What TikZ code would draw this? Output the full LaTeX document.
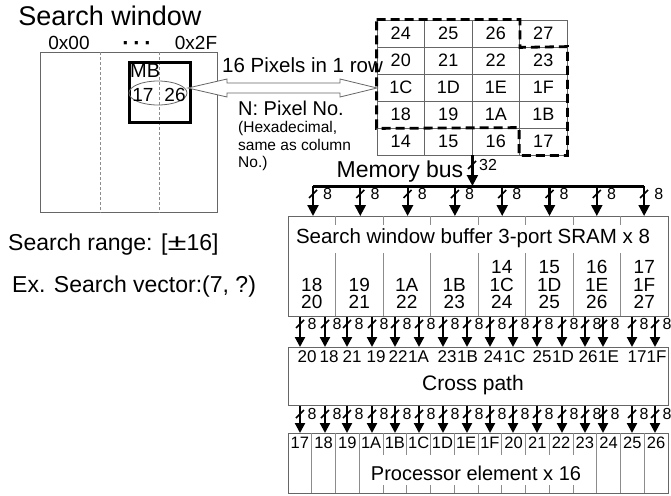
\documentclass[tikz,border=0pt]{standalone}
\usepackage{fontspec}
\setmainfont{Liberation Sans}
\usetikzlibrary{arrows.meta, shapes.geometric, calc, positioning}

\newcommand{\fs}[1]{\fontsize{#1}{#1}\selectfont}
% bus width mark: name, x, y, label offset, label
\newcommand{\buswidth}[5]{%
  \draw[line width=1.6pt] (#2-4,#3+4) -- (#2+4,#3-4);
  \node[txt=16, anchor=west] (#1) at (#2+#4,#3) {#5};}

\begin{document}
\begin{tikzpicture}[x=1pt, y=-1pt, >={Triangle[length=11pt, width=11pt]},
    thin box/.style={draw=black!60, line width=0.8pt, inner sep=0pt},
    divider/.style={draw=black!45, line width=0.8pt},
    busarrow/.style={->, line width=2.2pt},
    smallarrow/.style={-{Triangle[length=10pt, width=10pt]}, line width=2.2pt},
    pixel/.style={thin box, minimum width=47.5pt, minimum height=27pt, font=\fs{18}},
    txt/.style={inner sep=0pt, font=\fs{#1}},
    ]
\useasboundingbox (0,0) rectangle (671,495);

% Search window
\node[txt=27] (swtitle) at (110,16) {Search window};
\node[thin box, anchor=north west, minimum width=177pt, minimum height=160pt] (win) at (40,52) {};
\foreach \x in {100,159}
    \draw[divider, dash pattern=on 3pt off 2pt] (\x,0 |- win.north) -- (\x,0 |- win.south);
\node[txt=19] (c00) at (69,43) {0x00};
\node[txt=22, anchor=base] (cdots) at (137,50) {\textbf{·\,·\,·}};
\node[txt=19] (c2f) at (196,43) {0x2F};

% Macro block
\node[draw, line width=3pt, anchor=north west, minimum width=61pt, minimum height=60pt, inner sep=0pt] (mb) at (128,61) {};
\node[txt=20, anchor=north west] (mblab) at ($(mb.north west)+(2,3)$) {MB};
\node[draw=black!60, line width=0.8pt, ellipse, minimum width=58pt, minimum height=24pt, inner sep=0pt] (mbrow) at (158,93) {};
\node[txt=19] (p17) at (143,95) {17};
\node[txt=19] (p26) at (175,95) {26};

% Hollow arrow to the pixel rows
\coordinate (ha) at (188,88);
\coordinate (hb) at (377,88);
\draw[draw=black!60, line width=0.8pt, fill=white] (ha) -- ++(39,-9) -- ++(0,4) -- ($(hb)+(-37,-5)$) -- ++(0,-4)
    -- (hb) -- ++(-37,9) -- ++(0,-4) -- ($(ha)+(39,5)$) -- ++(0,4) -- cycle;
\node[txt=20.5, anchor=west] (rowlab) at (222,65) {16 Pixels in 1 row};
\node[txt=20, anchor=west] (nlab) at (238,108) {N: Pixel No.};
\node[txt=15.5, anchor=west, align=left, font=\fontsize{15.5}{17.5}\selectfont] (hexlab) at (238,146) {(Hexadecimal,\\same as column\\No.)};

% Pixel rows
\foreach \lab [count=\i from 0] in {24,25,26,27,20,21,22,23,1C,1D,1E,1F,18,19,1A,1B,14,15,16,17} {
    \pgfmathtruncatemacro{\col}{mod(\i,4)}
    \pgfmathtruncatemacro{\row}{\i/4}
    \node[pixel] (m\i) at (400.75+47.5*\col, 33.5+27*\row) {\lab};
}
\draw[line width=2.8pt, dash pattern=on 9pt off 5pt] (m0.north west) -- (m2.north east) -- (m2.south east)
    -- (m7.north east) -- (m19.south east) -- (m19.south west) -- (m19.north west) -- (m12.south west) -- cycle;

% Memory bus
\node[txt=23] (mbus) at (400,172) {Memory bus};
\node[thin box, anchor=north west, minimum width=380pt, minimum height=100pt] (sram) at (288,216) {};
\foreach \k in {0,...,7} {
    \coordinate (tap\k) at (313+47.3*\k, 186);
    \draw[busarrow] (tap\k) -- (tap\k |- sram.north);
    \buswidth{bw\k}{313+47.3*\k}{194}{10}{8}
}
\draw[line width=3pt] (tap0) -- (tap7);
\draw[busarrow] (m17.south east) -- (m17.south east |- tap0);
\buswidth{bw32}{472}{165}{7}{32}

% SRAM
\node[txt=20.5] (sramlab) at (473,238) {Search window buffer 3-port SRAM x 8};
\foreach \k in {1,...,7} {
    \draw[divider] (288+47.5*\k, 216) -- (288+47.5*\k, 225);
    \draw[divider] (288+47.5*\k, 253) -- (288+47.5*\k, 316);
}
\foreach \lab [count=\k from 0] in {{18\\20},{19\\21},{1A\\22},{1B\\23},{14\\1C\\24},{15\\1D\\25},{16\\1E\\26},{17\\1F\\27}}
    \node[txt=19, align=center, anchor=south, font=\fontsize{19}{17.5}\selectfont] (col\k) at (311.75+47.5*\k, 309) {\lab};

% Cross path and PEs
\node[thin box, anchor=north west, minimum width=380pt, minimum height=58pt] (cross) at (288,347) {};
\node[txt=21] (crosslab) at (473,385) {Cross path};
\node[thin box, anchor=north west, minimum width=380pt, minimum height=60pt] (pe) at (288,433) {};
\node[txt=20] (pelab) at (476,473) {Processor element x 16};
\foreach \k in {1,2,3,13,14,15}
    \draw[divider] (288+23.75*\k,433) -- (288+23.75*\k,493);
\foreach \k in {4,...,12} {
    \draw[divider] (288+23.75*\k,433) -- (288+23.75*\k,455);
    \draw[divider] (288+23.75*\k,485) -- (288+23.75*\k,493);
}
\foreach \lab [count=\k from 0] in {17,18,19,1A,1B,1C,1D,1E,1F,20,21,22,23,24,25,26}
    \node[txt=16.5] (pel\k) at (299.875+23.75*\k, 443) {\lab};

\foreach \ax/\lx/\lab [count=\k] in {300/307/20, 325/329/18, 347/352/21, 372/376/19, 395/398/22, 419/418.5/1A,
        443/447/23, 467/467.5/1B, 490/493/24, 513/514.5/1C, 537/542/25, 562/563/1D, 585/588/26, 603/608.5/1E,
        632/637/17, 655/656.5/1F} {
    \draw[smallarrow] (\ax,0 |- sram.south) -- (\ax,0 |- cross.north);
    \buswidth{sx\k}{\ax}{324}{7.5}{8}
    \node[txt=17] (cl\k) at (\lx,357) {\lab};
    \draw[smallarrow] (\ax,0 |- cross.south) -- (\ax,0 |- pe.north);
    \buswidth{px\k}{\ax}{414}{7.5}{8}
}

% Search range
\node[txt=23, anchor=west] (range) at (8,245) {Search range: [\scalebox{1.5}[1]{±}16]};
\node[txt=23, anchor=west] (vec) at (12,287) {Ex. Search vector:(7, ?)};

\end{tikzpicture}
\end{document}
